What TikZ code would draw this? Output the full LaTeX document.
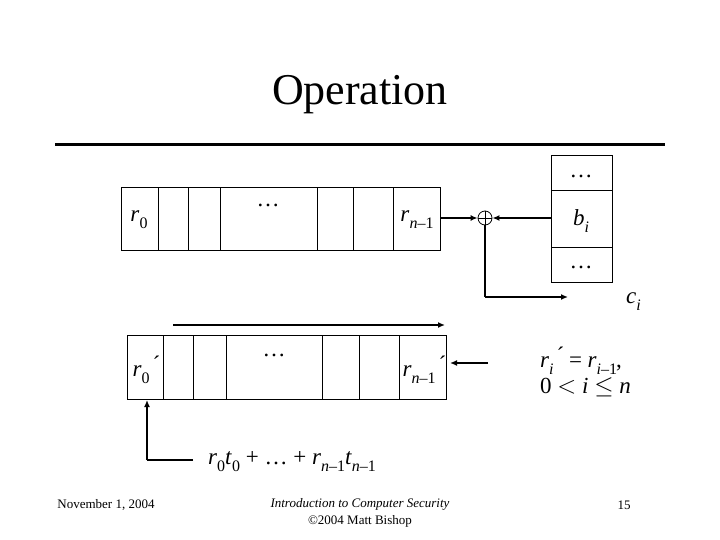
\documentclass[tikz,border=0pt]{standalone}
\usepackage{fontspec}
\setmainfont{Liberation Serif}
\usetikzlibrary{arrows.meta}
\newcommand{\sbx}[1]{\raisebox{-0.3em}{\fontsize{16}{16}\selectfont #1}}
\newcommand{\nm}{\textit{n}--1}
\newcommand{\im}{\textit{i}--1}
\begin{document}
\begin{tikzpicture}[x=1pt,y=-1pt,
  cell/.style={draw,line width=0.8pt},
  lab/.style={font=\fontsize{23}{26}\selectfont,inner sep=0pt},
  arr/.style={line width=1.5pt,-{Latex[length=7pt,width=6pt]}}]
\useasboundingbox (0,0) rectangle (720,540);
\node[font=\fontsize{44}{48}\selectfont] (title) at (360,95) {Operation};
\draw[line width=3pt] (55,145) -- (665,145);
% top register
\foreach \a/\b in {121/158,158/188,188/220,220/317,317/353,353/393,393/440}
  \draw[cell] (\a,187) rectangle (\b,250);
\node[lab] (r0) at (139,220) {\textit{r}\sbx{0}};
\node[lab] (tdots) at (268,205) {\dots};
\node[lab] (rn) at (417,220) {\textit{r}\sbx{\nm}};
\coordinate (regout) at (440,218);
\node[draw,circle,minimum size=14pt,inner sep=0pt,line width=0.8pt] (xor) at (485,218) {};
\draw[line width=0.8pt] (xor.north) -- (xor.south) (xor.west) -- (xor.east);
% b column
\draw[cell] (551,155) rectangle (612,190);
\draw[cell] (551,190) rectangle (612,247);
\draw[cell] (551,247) rectangle (612,282);
\node[lab] (bd1) at (581,176) {\dots};
\node[lab] (bi) at (581,221) {\textit{b}\sbx{\textit{i}}};
\node[lab] (bd2) at (581,267) {\dots};
\coordinate (bin) at (551,218);
\node[lab,anchor=west] (ci) at (626,302) {\textit{c}\sbx{\textit{i}}};
\draw[arr] (regout) -- (xor.west);
\draw[arr] (bin) -- (xor.east);
\coordinate (cc) at (485,297);
\draw[line width=1.5pt] (xor.south) -- (cc);
\draw[arr] (cc) -- (568,297);
% shift arrow
\coordinate (sa) at (173,325);
\coordinate (sb) at (445,325);
\draw[arr] (sa) -- (sb);
% bottom register
\foreach \a/\b in {127/163,163/193,193/226,226/322,322/359,359/399,399/446}
  \draw[cell] (\a,335) rectangle (\b,399);
\node[lab] (rp0) at (146,370) {\textit{r}\sbx{0}\,\'{}};
\node[lab] (bdots) at (274,355) {\dots};
\node[lab] (rpn) at (424,370) {\textit{r}\sbx{\nm}\,\'{}};
\node[lab,anchor=west,align=left] (rule) at (540,372) {\textit{r}\sbx{\textit{i}}\,\'{} = \textit{r}\sbx{\im}\kern-1pt,\\0 {$<$} \textit{i} {$\le$} \textit{n}};
\coordinate (rin) at (488,363);
\draw[arr] (rin) -- (450,363);
\node[lab,anchor=west] (fb) at (208,462) {\textit{r}\sbx{0}\textit{t}\sbx{0} + \dots{} + \textit{r}\sbx{\nm}\textit{t}\sbx{\nm}};
\coordinate (fc) at (147,460);
\draw[line width=1.5pt] (193,460) -- (fc);
\draw[arr] (fc) -- (147,400);
% footer
\node[font=\fontsize{13}{15}\selectfont] (date) at (106,505) {November 1, 2004};
\node[font=\fontsize{13}{17}\selectfont\itshape,align=center] (foot) at (360,513) {Introduction to Computer Security\\{\upshape\textcopyright 2004 Matt Bishop}};
\node[font=\fontsize{13}{15}\selectfont] (pg) at (624,505) {15};
\end{tikzpicture}
\end{document}
